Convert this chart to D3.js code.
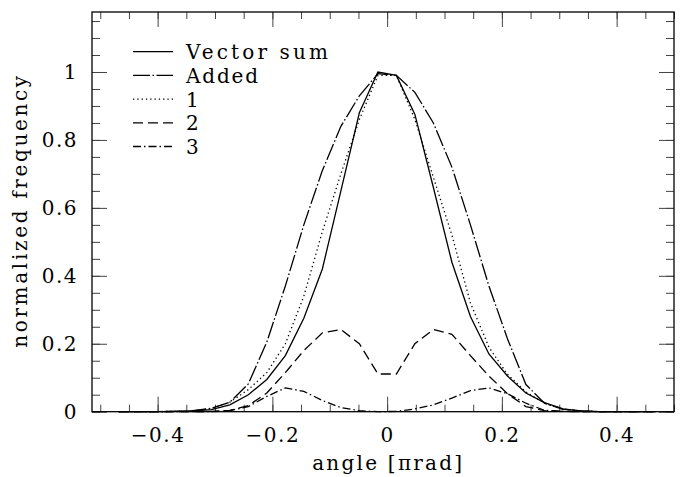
<!DOCTYPE html>
<html>
<head>
<meta charset="utf-8">
<script src="https://cdn.jsdelivr.net/npm/d3@7"></script>
<style>
body { margin: 0; background: #fff; }
text { font-family: "DejaVu Serif", serif; fill: #000; }
.tick line { stroke: #444; stroke-width: 1; }
</style>
</head>
<body>
<div id="chart"></div>
<script>
// bin centres, in units of pi rad
var angles = [-0.4677, -0.4355, -0.4032, -0.3710, -0.3387, -0.3065, -0.2742, -0.2419, -0.2097, -0.1774,
  -0.1452, -0.1129, -0.0806, -0.0484, -0.0161, 0.0161, 0.0484, 0.0806, 0.1129, 0.1452,
  0.1774, 0.2097, 0.2419, 0.2742, 0.3065, 0.3387, 0.3710, 0.4032, 0.4355, 0.4677];

var vectorSum = [0, 0, 0, 0.001, 0.002, 0.006, 0.02, 0.05, 0.095, 0.165,
  0.275, 0.42, 0.65, 0.88, 1.0, 0.99, 0.875, 0.66, 0.44, 0.28,
  0.17, 0.105, 0.055, 0.027, 0.008, 0.002, 0, 0, 0, 0];
var added = [0, 0, 0, 0.001, 0.003, 0.01, 0.028, 0.082, 0.205, 0.37,
  0.55, 0.71, 0.84, 0.93, 0.995, 0.99, 0.94, 0.85, 0.72, 0.55,
  0.37, 0.215, 0.08, 0.025, 0.007, 0.002, 0, 0, 0, 0];
var comp1 = [0, 0, 0, 0.001, 0.003, 0.009, 0.028, 0.065, 0.115, 0.2,
  0.34, 0.53, 0.70, 0.86, 0.99, 0.99, 0.86, 0.69, 0.52, 0.32,
  0.19, 0.11, 0.058, 0.025, 0.008, 0.002, 0, 0, 0, 0];
var comp2 = [0, 0, 0, 0, 0, 0.001, 0.004, 0.018, 0.055, 0.115,
  0.18, 0.232, 0.242, 0.20, 0.111, 0.111, 0.20, 0.242, 0.228, 0.165,
  0.105, 0.053, 0.015, 0.003, 0.001, 0, 0, 0, 0, 0];
var comp3 = [0, 0, 0, 0, 0, 0, 0.003, 0.015, 0.045, 0.07,
  0.06, 0.033, 0.012, 0.003, 0, 0.001, 0.008, 0.02, 0.04, 0.062,
  0.07, 0.053, 0.025, 0.004, 0.001, 0, 0, 0, 0, 0];

var seriesNames = ["Vector sum", "Added", "1", "2", "3"];
var xTicks = [-0.4, -0.2, 0, 0.2, 0.4];
var yTicks = [0, 0.2, 0.4, 0.6, 0.8, 1];

var margin = { top: 12, right: 6, bottom: 65.3, left: 92 };
var width = 680 - margin.left - margin.right;
var height = 477 - margin.top - margin.bottom;

var svg = d3.select("#chart").append("svg")
  .attr("width", 680)
  .attr("height", 477)
  .append("g")
  .attr("transform", "translate(" + margin.left + "," + margin.top + ")");

var x = d3.scaleLinear().domain([-0.5144, 0.5]).range([0, width]);
var y = d3.scaleLinear().domain([0, 1.1766]).range([height, 0]);

var fmt = d3.format("");

// minor ticks
svg.append("g").attr("transform", "translate(0," + height + ")")
  .call(d3.axisBottom(x).ticks(20).tickSizeInner(-7).tickSizeOuter(0).tickFormat(""));
svg.append("g")
  .call(d3.axisTop(x).ticks(20).tickSizeInner(-7).tickSizeOuter(0).tickFormat(""));
svg.append("g")
  .call(d3.axisLeft(y).ticks(20).tickSizeInner(-8).tickSizeOuter(0).tickFormat(""));
svg.append("g").attr("transform", "translate(" + width + ",0)")
  .call(d3.axisRight(y).ticks(20).tickSizeInner(-8).tickSizeOuter(0).tickFormat(""));

// major ticks
svg.append("g").attr("class", "x-axis").attr("transform", "translate(0," + height + ")")
  .call(d3.axisBottom(x).tickValues(xTicks).tickSizeInner(-15).tickSizeOuter(0).tickPadding(16).tickFormat(fmt));
svg.append("g")
  .call(d3.axisTop(x).tickValues(xTicks).tickSizeInner(-15).tickSizeOuter(0).tickFormat(""));
svg.append("g").attr("class", "y-axis")
  .call(d3.axisLeft(y).tickValues(yTicks).tickSizeInner(-15).tickSizeOuter(0).tickPadding(14).tickFormat(fmt));
svg.append("g").attr("transform", "translate(" + width + ",0)")
  .call(d3.axisRight(y).tickValues(yTicks).tickSizeInner(-15).tickSizeOuter(0).tickFormat(""));

svg.selectAll(".domain").remove();
svg.selectAll(".x-axis text, .y-axis text")
  .attr("font-family", "DejaVu Serif")
  .attr("font-size", 20)
  .attr("letter-spacing", 1.5);

svg.append("rect")
  .attr("width", width).attr("height", height)
  .attr("fill", "none").attr("stroke", "#000").attr("stroke-width", 1.3);

// curves
var series = [
  { name: seriesNames[0], values: vectorSum, dash: null, len: 142 },
  { name: seriesNames[1], values: added, dash: "17,2.5,1.5,2.5", len: 72 },
  { name: seriesNames[2], values: comp1, dash: "1.3,3", len: null },
  { name: seriesNames[3], values: comp2, dash: "10,5", len: null },
  { name: seriesNames[4], values: comp3, dash: "8,3,1.5,3", len: null }
];

var line = d3.line()
  .x(function(d, i){ return x(angles[i]); })
  .y(function(d){ return y(d); });

svg.selectAll(".curve").data(series).enter().append("path")
  .attr("class", "curve")
  .attr("d", function(d){ return line(d.values); })
  .attr("fill", "none")
  .attr("stroke", "#000")
  .attr("stroke-width", 1.3)
  .attr("stroke-dasharray", function(d){ return d.dash; });

// legend
var legend = svg.append("g").attr("transform", "translate(41,39.7)");
var rows = legend.selectAll("g").data(series).enter().append("g")
  .attr("transform", function(d, i){ return "translate(0," + (i * 23.7) + ")"; });
rows.append("line")
  .attr("x1", 0).attr("x2", 40)
  .attr("stroke", "#000").attr("stroke-width", 1.3)
  .attr("stroke-dasharray", function(d){ return d.dash; });
rows.append("text")
  .attr("x", 53).attr("y", 7.5)
  .attr("font-size", 20)
  .attr("textLength", function(d){ return d.len; })
  .attr("lengthAdjust", "spacing")
  .text(function(d){ return d.name; });

// axis titles
svg.append("text")
  .attr("text-anchor", "middle")
  .attr("transform", "translate(" + x(0) + "," + (height + 58.5) + ")")
  .attr("font-size", 20)
  .attr("textLength", 150)
  .attr("lengthAdjust", "spacing")
  .text("angle [\u03c0rad]");

svg.append("text")
  .attr("text-anchor", "middle")
  .attr("transform", "translate(-65," + (height / 2) + ")rotate(-90)")
  .attr("font-size", 20)
  .attr("textLength", 272)
  .attr("lengthAdjust", "spacing")
  .text("normalized frequency");
</script>
</body>
</html>
